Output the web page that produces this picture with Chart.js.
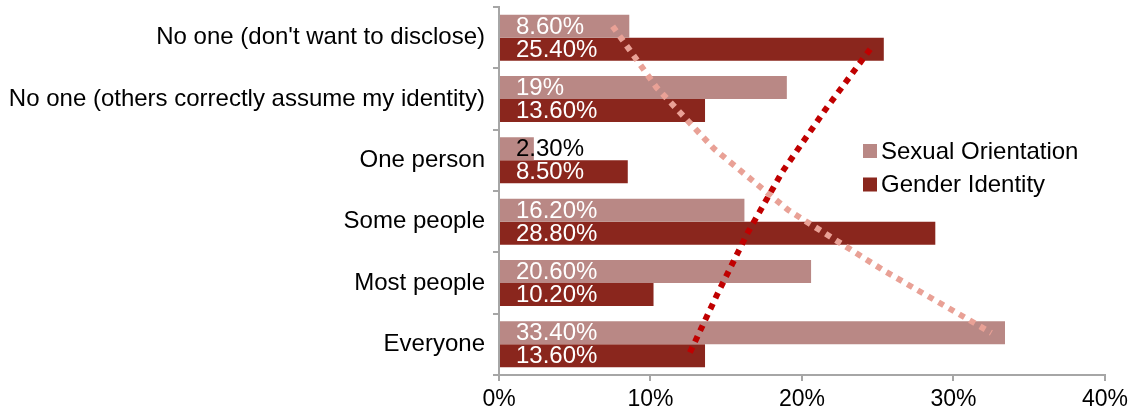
<!DOCTYPE html>
<html>
<head>
<meta charset="utf-8">
<script src="https://cdn.jsdelivr.net/npm/chart.js@4/dist/chart.umd.min.js"></script>
<style>
  html, body { margin: 0; padding: 0; background: #fff; }
  #wrap { width: 1133px; height: 417px; position: relative; }
</style>
</head>
<body>
<div id="wrap"><canvas id="chart"></canvas></div>
<script>
// categories top to bottom
const categories = [
  "No one (don't want to disclose)",
  'No one (others correctly assume my identity)',
  'One person',
  'Some people',
  'Most people',
  'Everyone'
];
const sexualOrientation = [8.6, 19, 2.3, 16.2, 20.6, 33.4];
const genderIdentity = [25.4, 13.6, 8.5, 28.8, 10.2, 13.6];
// trend lines at each bar
const soTrend = [7.5, 10.4, 14.2, 19.1, 25.5, 32.5];
const giTrend = [24.5, 21.5, 18.7, 16.4, 14.4, 12.5];
const xTicks = [0, 10, 20, 30, 40];

const SO_COLOR = '#b98885';
const GI_COLOR = '#8a261d';
const FONT = '"Liberation Sans", Arial, sans-serif';

// bar centres inside a band: two bars at 75% of the band
const half = 0.75 / 4;
const toPoints = (vals, shift) => vals.map((v, i) => ({ x: v, y: i + shift }));

// data labels at the left end of each bar
const barLabels = {
  id: 'barLabels',
  afterDatasetsDraw(chart) {
    const ctx = chart.ctx;
    ctx.save();
    ctx.font = '24px ' + FONT;
    ctx.textAlign = 'left';
    ctx.textBaseline = 'middle';
    chart.data.datasets.forEach((ds, di) => {
      if (ds.type === 'line') return;
      chart.getDatasetMeta(di).data.forEach((bar, i) => {
        const v = ds.data[i];
        ctx.fillStyle = v < 5 ? '#000' : '#fff';
        const txt = Number.isInteger(v) ? v + '%' : v.toFixed(2) + '%';
        ctx.fillText(txt, bar.base + 16, bar.y + 1);
      });
    });
    ctx.restore();
  }
};

// legend drawn inside the plot, as in the original
const sideLegend = {
  id: 'sideLegend',
  afterDraw(chart) {
    const ctx = chart.ctx;
    ctx.save();
    ctx.font = '24px ' + FONT;
    ctx.textBaseline = 'middle';
    let y = 151;
    chart.data.datasets.forEach(ds => {
      if (ds.type === 'line') return;
      ctx.fillStyle = ds.backgroundColor;
      ctx.fillRect(863, y - 7, 14, 14);
      ctx.fillStyle = '#000';
      ctx.fillText(ds.label, 881, y + 1);
      y += 33.5;
    });
    ctx.restore();
  }
};

// trend lines sit on the category axis, between the category centres
const lineStyle = {
  type: 'line',
  parsing: false,
  normalized: true,
  borderWidth: 6,
  borderDash: [6, 6],
  pointRadius: 0,
  fill: false
};

new Chart(document.getElementById('chart'), {
  type: 'bar',
  data: {
    labels: categories,
    datasets: [
      {
        label: 'Sexual Orientation',
        data: sexualOrientation,
        backgroundColor: SO_COLOR,
        categoryPercentage: 0.75,
        barPercentage: 1,
        order: 2
      },
      {
        label: 'Gender Identity',
        data: genderIdentity,
        backgroundColor: GI_COLOR,
        categoryPercentage: 0.75,
        barPercentage: 1,
        order: 2
      },
      Object.assign({}, lineStyle, {
        label: 'SO trend',
        data: toPoints(soTrend, -half),
        borderColor: '#e9a196',
        order: 1
      }),
      Object.assign({}, lineStyle, {
        label: 'GI trend',
        data: toPoints(giTrend, half),
        borderColor: '#c00000',
        order: 0
      })
    ]
  },
  options: {
    indexAxis: 'y',
    responsive: true,
    maintainAspectRatio: false,
    animation: false,
    layout: { padding: { top: 7, right: 28, left: 0, bottom: 0 } },
    scales: {
      x: {
        type: 'linear',
        min: 0,
        max: 40,
        afterBuildTicks: scale => { scale.ticks = xTicks.map(v => ({ value: v })); },
        ticks: {
          callback: v => v + '%',
          color: '#000',
          padding: 5,
          font: { family: FONT, size: 23 }
        },
        grid: { drawOnChartArea: false, drawTicks: true, tickLength: 6, color: '#a6a6a6', lineWidth: 2 },
        border: { color: '#a6a6a6', width: 2 },
        afterFit: scale => { scale.height = 42; }
      },
      y: {
        type: 'category',
        min: 0,
        max: categories.length - 1,
        ticks: {
          color: '#000',
          padding: 8,
          font: { family: FONT, size: 24 }
        },
        grid: { drawOnChartArea: false, drawTicks: true, tickLength: 6, color: '#a6a6a6', lineWidth: 2 },
        border: { color: '#a6a6a6', width: 2 },
        afterFit: scale => {
          scale.width = 499;
          scale.paddingTop = 0;
          scale.paddingBottom = 0;
        }
      }
    },
    plugins: {
      legend: { display: false },
      tooltip: { enabled: false }
    }
  },
  plugins: [barLabels, sideLegend]
});
</script>
</body>
</html>
